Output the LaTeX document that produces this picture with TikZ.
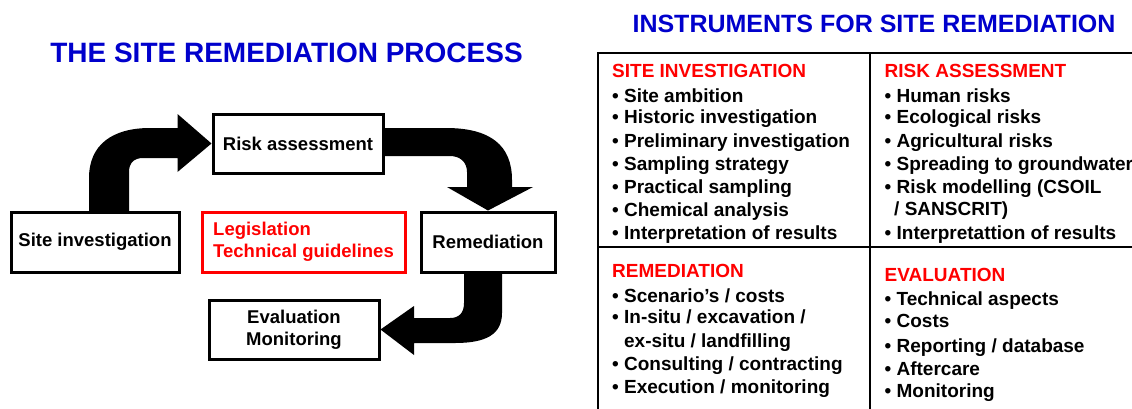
\documentclass[tikz,border=0pt]{standalone}
\usepackage{fontspec}
\setmainfont{Liberation Sans}
\definecolor{titleblue}{RGB}{0,0,204}
\definecolor{headred}{RGB}{255,0,0}

\tikzset{
  procbox/.style={draw, line width=3pt, inner sep=0pt, align=center,
    font=\fontsize{18.5}{22}\selectfont\bfseries},
  lawbox/.style={procbox, draw=headred, text=headred, align=left},
  cellhead/.style={anchor=base west, inner sep=0pt, text=headred,
    font=\fontsize{19}{23}\selectfont\bfseries},
  cellitem/.style={anchor=base west, inner sep=0pt,
    font=\fontsize{19}{23}\selectfont\bfseries},
  bigarrow/.style={fill=black},
  tablerule/.style={line width=1.6pt}
}

\begin{document}
\begin{tikzpicture}[x=1pt,y=-1pt]
\useasboundingbox (0,0) rectangle (1132,408);

% titles
\node[text=titleblue, font=\fontsize{28}{30}\selectfont\bfseries] (proctitle) at (286.5,53) {THE SITE REMEDIATION PROCESS};
\node[text=titleblue, font=\fontsize{25}{28}\selectfont\bfseries] (instrtitle) at (874,23.5) {INSTRUMENTS FOR SITE REMEDIATION};

% process boxes
\node[procbox, minimum width=168pt, minimum height=60pt] (si) at (95,242) {Site investigation};
\node[procbox, minimum width=170pt, minimum height=59pt] (ra) at (298,143.5) {Risk assessment};
\node[lawbox, minimum width=203pt, minimum height=60pt] (law) at (303.5,242) {Legislation\\Technical guidelines};
\node[procbox, minimum width=134pt, minimum height=60pt] (rem) at (488,242) {Remediation};
\node[procbox, minimum width=170pt, minimum height=59pt] (ev) at (294,329.5) {Evaluation\\Monitoring};

% block arrows
\fill[bigarrow] (89,212) -- (89,178) .. controls (89,145) and (112,128) .. (150,128)
  -- (177.5,128) -- (177.5,114) -- (ra.west) -- (177.5,172) -- (177.5,158) -- (143,158)
  .. controls (134,158) and (129,163) .. (129,172) -- (129,212) -- cycle;
\fill[bigarrow] (383,128) -- (446,128) .. controls (490,128) and (512,145) .. (512,180)
  -- (512,187) -- (533,187) -- (rem.north) -- (447,187) -- (467,187) -- (467,172)
  .. controls (467,162) and (460,156) .. (450,156) -- (383,156) -- cycle;
\fill[bigarrow] (464,272) -- (464,303) .. controls (464,313) and (459,318) .. (450,318)
  -- (414,318) -- (414,306) -- (ev.east) -- (414,355) -- (414,343) -- (455,343)
  .. controls (485,343) and (502,335) .. (502,313) -- (502,272) -- cycle;

% instruments table
\draw[tablerule] (598,412) -- (598,53) -- (1136,53);
\draw[tablerule] (870,53) -- (870,412);
\draw[tablerule] (598,247) -- (1136,247);

\node[cellhead] (sihead) at (612,77) {SITE INVESTIGATION};
\foreach \y/\t [count=\i] in {102/{• Site ambition}, 123.7/{• Historic investigation},
    147.7/{• Preliminary investigation}, 170/{• Sampling strategy},
    193.7/{• Practical sampling}, 216/{• Chemical analysis},
    239.7/{• Interpretation of results}}
  \node[cellitem] (siitem\i) at (612,\y) {\t};

\node[cellhead] (rahead) at (884.5,77) {RISK ASSESSMENT};
\foreach \y/\t [count=\i] in {102/{• Human risks}, 123.7/{• Ecological risks},
    147.7/{• Agricultural risks}, 170/{• Spreading to groundwater},
    193.7/{• Risk modelling (CSOIL}, 215/{\hspace{9.5pt}/ SANSCRIT)},
    239.7/{• Interpretattion of results}}
  \node[cellitem] (raitem\i) at (884.5,\y) {\t};

\node[cellhead] (remhead) at (612,277) {REMEDIATION};
\foreach \y/\t [count=\i] in {302/{• Scenario’s / costs}, 323.7/{• In-situ / excavation /},
    347/{\phantom{• }ex-situ / landfilling}, 370.3/{• Consulting / contracting},
    393.7/{• Execution / monitoring}}
  \node[cellitem] (remitem\i) at (612,\y) {\t};

\node[cellhead] (evhead) at (884.5,281) {EVALUATION};
\foreach \y/\t [count=\i] in {305.3/{• Technical aspects}, 327.7/{• Costs},
    352/{• Reporting / database}, 375.3/{• Aftercare}, 397.7/{• Monitoring}}
  \node[cellitem] (evitem\i) at (884.5,\y) {\t};
\end{tikzpicture}
\end{document}
